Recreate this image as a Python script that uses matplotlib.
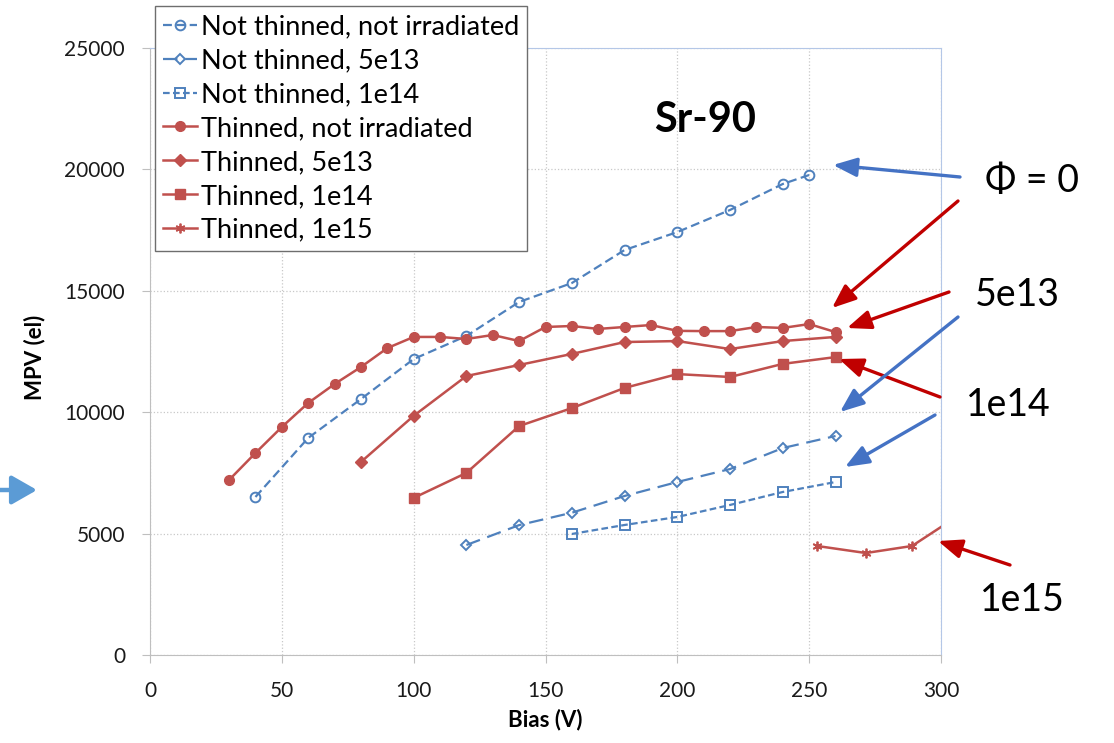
import matplotlib
matplotlib.use("Agg")
import matplotlib.pyplot as plt

plt.rcParams['font.family'] = ['Lato', 'DejaVu Sans']

# data
bias_nt0 = [40, 60, 80, 100, 120, 140, 160, 180, 200, 220, 240, 250]
mpv_nt0 = [6510, 8940, 10540, 12190, 13140, 14540, 15320, 16680, 17420, 18330, 19400, 19770]

bias_nt5e13 = [120, 140, 160, 180, 200, 220, 240, 260]
mpv_nt5e13 = [4530, 5350, 5860, 6550, 7125, 7660, 8525, 9020]

bias_nt1e14 = [160, 180, 200, 220, 240, 260]
mpv_nt1e14 = [4985, 5355, 5685, 6180, 6715, 7125]

bias_t0 = [30, 40, 50, 60, 70, 80, 90, 100, 110, 120, 130, 140, 150,
           160, 170, 180, 190, 200, 210, 220, 230, 240, 250, 260]
mpv_t0 = [7210, 8320, 9390, 10380, 11160, 11860, 12640, 13100, 13100, 13015,
          13180, 12930, 13510, 13550, 13430, 13510, 13590, 13350, 13340, 13340,
          13510, 13470, 13630, 13300]

bias_t5e13 = [80, 100, 120, 140, 160, 180, 200, 220, 240, 260]
mpv_t5e13 = [7950, 9850, 11490, 11945, 12400, 12890, 12930, 12600, 12930, 13100]

bias_t1e14 = [100, 120, 140, 160, 180, 200, 220, 240, 260]
mpv_t1e14 = [6470, 7500, 9430, 10170, 11000, 11570, 11450, 11990, 12270]

bias_t1e15 = [253, 271.5, 289, 307]
mpv_t1e15 = [4490, 4200, 4490, 5770]

labels = ['Not thinned, not irradiated', 'Not thinned, 5e13', 'Not thinned, 1e14',
          'Thinned, not irradiated', 'Thinned, 5e13', 'Thinned, 1e14', 'Thinned, 1e15']

BLUE = '#4F81BD'
RED = '#C0504D'
W, H = 1114, 743

fig = plt.figure(figsize=(W / 100, H / 100), dpi=100)
ax = fig.add_axes([150 / W, 1 - 655 / H, 791 / W, 607 / H])

def px(x, y):
    # top-left pixel coords -> figure pixels
    return (x, H - y)

# not thinned (open markers, dashed)
ax.plot(bias_nt0, mpv_nt0, color=BLUE, lw=1.6, ls=(0, (4, 2)), marker='o', ms=7,
        mfc='none', mec=BLUE, mew=1.4, label=labels[0])
ax.plot(bias_nt5e13, mpv_nt5e13, color=BLUE, lw=1.6, ls=(0, (6.5, 3.5)), marker='D', ms=5.5,
        mfc='none', mec=BLUE, mew=1.4, label=labels[1])
ax.plot(bias_nt1e14, mpv_nt1e14, color=BLUE, lw=1.6, ls=(0, (3, 1.5)), marker='s', ms=7,
        mfc='none', mec=BLUE, mew=1.4, label=labels[2])

# thinned (filled markers, solid)
ax.plot(bias_t0, mpv_t0, color=RED, lw=1.8, marker='o', ms=7, label=labels[3])
ax.plot(bias_t5e13, mpv_t5e13, color=RED, lw=1.8, marker='D', ms=6.5, label=labels[4])
ax.plot(bias_t1e14, mpv_t1e14, color=RED, lw=1.8, marker='s', ms=7, label=labels[5])
ax.plot(bias_t1e15, mpv_t1e15, color=RED, lw=1.8, marker=(6, 2, 0), ms=7, mew=1.3,
        label=labels[6])

ax.set_xlim(0, 300)
ax.set_ylim(0, 25000)
ax.set_xticks(range(0, 301, 50))
ax.set_yticks(range(0, 25001, 5000))
ax.grid(True, color='#c8c8c8', ls=':', lw=0.9)
ax.set_axisbelow(True)
ax.tick_params(labelsize=15, length=6, color='#bfbfbf', colors='#1a1a1a')
ax.tick_params(axis='x', pad=13)
ax.tick_params(axis='y', pad=12)
for s in ['left', 'bottom']:
    ax.spines[s].set_color('#bfbfbf')
for s in ['right', 'top']:
    ax.spines[s].set_color('#b4c7e7')

ax.set_xlabel('Bias (V)', fontsize=16, fontweight='bold', labelpad=5)
fig.text(35 / W, 1 - 357 / H, 'MPV (el)', fontsize=16, fontweight='bold',
         rotation=90, ha='center', va='center')

leg = ax.legend(loc='upper left', bbox_to_anchor=(155 / W, 1 - 6 / H),
                bbox_transform=fig.transFigure, fontsize=19.5, frameon=True,
                fancybox=False, framealpha=1, edgecolor='#6e6e6e',
                handlelength=1.25, handletextpad=0.15, labelspacing=0.33,
                borderpad=0.3, borderaxespad=0)
leg.get_frame().set_linewidth(1.0)

fig.text(705 / W, 1 - 120 / H, 'Sr-90', fontsize=30, fontweight='bold',
         ha='center', va='center')

# callout labels
callouts = [('Φ = 0', 1032, 181), ('5e13', 1017, 295), ('1e14', 1008, 405), ('1e15', 1022, 600)]
for txt, x, y in callouts:
    fig.text(x / W, 1 - y / H, txt, fontsize=27, ha='center', va='center',
             family=['Lato', 'DejaVu Sans'])

arrows = [((960, 177), (833, 165), '#4472C4'),
          ((958, 201), (832, 308), '#C00000'),
          ((949, 292), (847, 328), '#C00000'),
          ((940, 397), (839, 359), '#C00000'),
          ((958, 317), (840, 412), '#4472C4'),
          ((935, 415), (845, 467), '#4472C4'),
          ((1010, 565), (938, 541), '#C00000')]
for tail, head, c in arrows:
    ax.annotate('', xy=px(*head), xycoords='figure pixels',
                xytext=px(*tail), textcoords='figure pixels',
                arrowprops=dict(arrowstyle='-|>,head_length=0.8,head_width=0.32',
                                color=c, lw=2.4, shrinkA=0, shrinkB=0,
                                mutation_scale=18),
                annotation_clip=False)

ax.annotate('', xy=px(37, 490), xycoords='figure pixels',
            xytext=px(-2, 490), textcoords='figure pixels',
            arrowprops=dict(arrowstyle='-|>,head_length=0.7,head_width=0.4',
                            color='#5B9BD5', lw=3.2, shrinkA=0, shrinkB=0,
                            mutation_scale=22),
            annotation_clip=False)

fig.savefig('out.png', dpi=100)
